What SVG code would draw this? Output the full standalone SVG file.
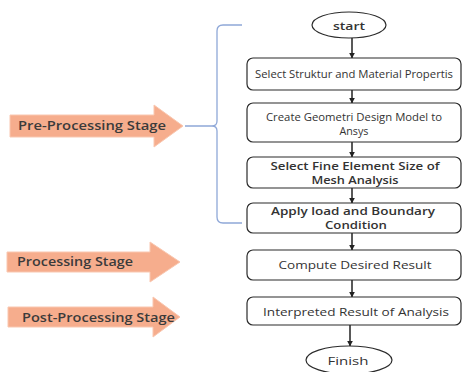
<svg xmlns="http://www.w3.org/2000/svg" width="463" height="372" viewBox="0 0 463 372">
<style>
.box{fill:#fff;stroke:#2b2b2b;stroke-width:1.2}
.t{font-family:"Open Sans","Liberation Sans",sans-serif;font-size:10.5px;fill:#333;text-anchor:middle}
.b{font-weight:600}
.st{font-family:"Open Sans","Liberation Sans",sans-serif;font-size:12px;font-weight:600;fill:#3b3b3b}
.stage{fill:#F6AD8D;stroke:#F9C7B0;stroke-width:1}
.con{stroke:#222;stroke-width:1.5;fill:none;marker-end:url(#ah)}
</style>
<defs>
<marker id="ah" viewBox="0 0 10 10" refX="9" refY="5" markerWidth="4" markerHeight="4" orient="auto" markerUnits="strokeWidth">
<path d="M0,0 L10,5 L0,10 z" fill="#222"/>
</marker>
</defs>
<rect width="463" height="372" fill="#fff"/>
<g id="connectors">
<line class="con" x1="352" y1="38" x2="352" y2="58"/>
<line class="con" x1="352" y1="90" x2="352" y2="103"/>
<line class="con" x1="352" y1="142" x2="352" y2="157"/>
<line class="con" x1="352" y1="188" x2="352" y2="203"/>
<line class="con" x1="352" y1="233" x2="352" y2="250"/>
<line class="con" x1="352" y1="280" x2="352" y2="297"/>
<line class="con" x1="350" y1="325" x2="350" y2="346"/>
</g>
<g id="brace">
<path d="M242,25 L223,25 Q217,25 217,31 L217,121 Q217,126 212,126 L185,126 M212,126 Q217,126 217,131 L217,217 Q217,223 223,223 L242,223" fill="none" stroke="#8FA8D8" stroke-width="1.3"/>
</g>
<g id="start">
<ellipse cx="349" cy="25" rx="37" ry="13" fill="#fff" stroke="#2b2b2b" stroke-width="1.2"/>
<text class="t b" x="349" y="30" font-size="12" textLength="32" lengthAdjust="spacingAndGlyphs">start</text>
</g>
<g id="n1">
<rect class="box" x="247" y="58" width="214" height="32" rx="6"/>
<text class="t" x="354" y="78" textLength="198" lengthAdjust="spacingAndGlyphs">Select Struktur and Material Propertis</text>
</g>
<g id="n2">
<rect class="box" x="247" y="103" width="214" height="39" rx="6"/>
<text class="t" x="354" y="121" textLength="176" lengthAdjust="spacingAndGlyphs">Create Geometri Design Model to</text>
<text class="t" x="354" y="135" textLength="29" lengthAdjust="spacingAndGlyphs">Ansys</text>
</g>
<g id="n3">
<rect class="box" x="247" y="157" width="214" height="31" rx="6"/>
<text class="t b" x="355" y="170" textLength="169" lengthAdjust="spacingAndGlyphs">Select Fine Element Size of</text>
<text class="t b" x="355" y="184" textLength="87" lengthAdjust="spacingAndGlyphs">Mesh Analysis</text>
</g>
<g id="n4">
<rect class="box" x="247" y="203" width="214" height="30" rx="6"/>
<text class="t b" x="353" y="215" textLength="164" lengthAdjust="spacingAndGlyphs">Apply load and Boundary</text>
<text class="t b" x="356" y="229" textLength="62" lengthAdjust="spacingAndGlyphs">Condition</text>
</g>
<g id="n5">
<rect class="box" x="247" y="250" width="214" height="30" rx="6"/>
<text class="t" x="355" y="269" textLength="153" lengthAdjust="spacingAndGlyphs">Compute Desired Result</text>
</g>
<g id="n6">
<rect class="box" x="247" y="297" width="214" height="28" rx="6"/>
<text class="t" x="356" y="316" textLength="186" lengthAdjust="spacingAndGlyphs">Interpreted Result of Analysis</text>
</g>
<g id="finish">
<ellipse cx="349" cy="360" rx="43" ry="14" fill="#fff" stroke="#2b2b2b" stroke-width="1.2"/>
<text class="t" x="348" y="365" font-size="12" textLength="41" lengthAdjust="spacingAndGlyphs">Finish</text>
</g>
<g id="pre">
<path class="stage" d="M10,115 L154,115 L154,105 L183,126 L154,147 L154,137 L10,137 z"/>
<text class="st" x="18" y="130" textLength="148" lengthAdjust="spacingAndGlyphs">Pre-Processing Stage</text>
</g>
<g id="proc">
<path class="stage" d="M7,252 L150,252 L150,242 L180,262 L150,282 L150,272 L7,272 z"/>
<text class="st" x="17" y="266" textLength="116" lengthAdjust="spacingAndGlyphs">Processing Stage</text>
</g>
<g id="post">
<path class="stage" d="M8,307 L153,307 L153,297 L180,317 L153,337 L153,327 L8,327 z"/>
<text class="st" x="22" y="322" textLength="153" lengthAdjust="spacingAndGlyphs">Post-Processing Stage</text>
</g>
</svg>
